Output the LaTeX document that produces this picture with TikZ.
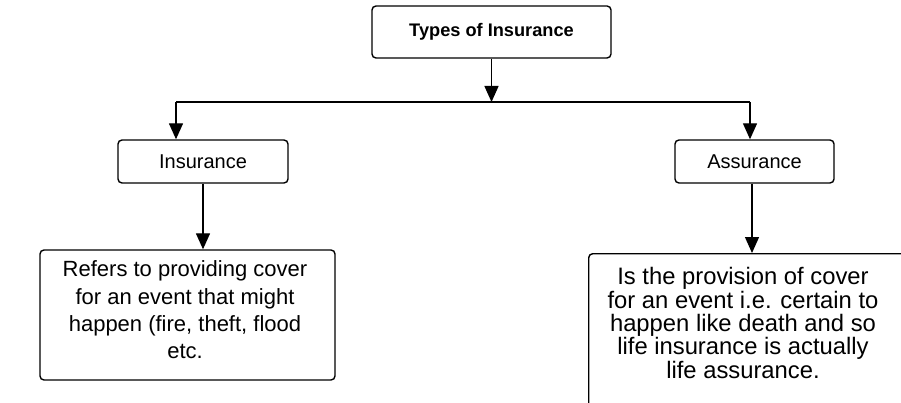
\documentclass[tikz,border=0pt]{standalone}
\usepackage{fontspec}
\setmainfont{Liberation Sans}
\usetikzlibrary{arrows.meta}
\begin{document}
\begin{tikzpicture}[x=1pt,y=-1pt,
  box/.style={draw, line width=1.4pt, rounded corners=4pt, inner sep=0pt, align=center},
  body/.style={align=center, inner sep=0pt},
  link/.style={line width=1.4pt, -{Triangle[width=14pt,length=16pt]}},
  bus/.style={line width=1.4pt},
]
\useasboundingbox (0,0) rectangle (901,403);
\clip (0,0) rectangle (901,403);

% headline
\node[box, minimum width=239pt, minimum height=52pt,
      font=\fontsize{18.2}{22}\selectfont\bfseries] (title) at (491.5,32) {Types of Insurance};

% the two kinds
\node[box, minimum width=170pt, minimum height=43pt,
      font=\fontsize{20}{24}\selectfont] (ins) at (203,161.5) {Insurance};
\node[box, minimum width=159pt, minimum height=43pt,
      font=\fontsize{20}{24}\selectfont] (ass) at (754.5,161.5) {Assurance};

% explanations
\node[box, minimum width=295pt, minimum height=130pt] (insdef) at (187.5,315) {};
\node[body, font=\fontsize{22}{27.3}\selectfont] (instext) at (185,310)
  {Refers to providing cover\\for an event that might\\happen (fire, theft, flood\\etc.};
\node[box, minimum width=322pt, minimum height=175pt, anchor=north west] (assdef) at (588,253) {};
\node[body, font=\fontsize{23.8}{23.3}\selectfont] (asstext) at (743,323)
  {Is the provision of cover\\for an event i.e. certain to\\happen like death and so\\life insurance is actually\\life assurance.};

% branching connectors
\coordinate (split) at (title.south |- 0,102);
\coordinate (left) at (176,102);
\coordinate (right) at (750,102);
\draw[link] (title.south) -- (split);
\draw[bus] (left) -- (right);
\draw[link] (left) -- (left |- ins.north);
\draw[link] (right) -- (right |- ass.north);
\draw[link] (ins.south) -- (ins.south |- insdef.north);
\draw[link] (ass.south -| 752,0) -- (752,253);
\end{tikzpicture}
\end{document}
